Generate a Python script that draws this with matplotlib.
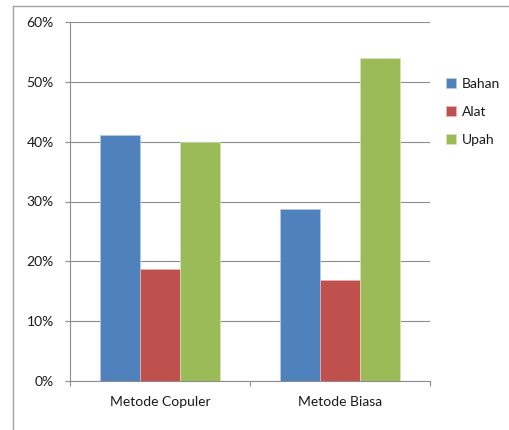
import matplotlib
matplotlib.use("Agg")
import matplotlib.pyplot as plt
from matplotlib.lines import Line2D
from matplotlib.ticker import FuncFormatter, FixedLocator

categories = ["Metode Copuler", "Metode Biasa"]
series_names = ["Bahan", "Alat", "Upah"]
bahan = [41.1, 28.7]
alat = [18.8, 16.8]
upah = [40.0, 53.9]
y_ticks = [0, 10, 20, 30, 40, 50, 60]

colors = ["#4F81BD", "#C0504D", "#9BBB59"]
edges = ["#B9CDE5", "#E6B9B8", "#D7E4BD"]

plt.rcParams["font.family"] = ["Lato", "DejaVu Sans"]

W, H = 510, 430
fig = plt.figure(figsize=(W / 100, H / 100), dpi=100)
ax = fig.add_axes([70 / W, (H - 381) / H, 360 / W, 359 / H])

values = [bahan, alat, upah]
bw = 0.222
x = list(range(len(categories)))
for i, (name, vals) in enumerate(zip(series_names, values)):
    xs = [xi + (i - 1) * bw for xi in x]
    ax.bar(xs, vals, width=bw, color=colors[i], edgecolor=edges[i],
           linewidth=0.5, label=name, zorder=3)

ax.set_xlim(-0.5, len(categories) - 0.5)
ax.set_ylim(0, 60)
ax.yaxis.set_major_locator(FixedLocator(y_ticks))
ax.yaxis.set_major_formatter(FuncFormatter(lambda v, p: f"{int(v)}%"))
ax.grid(axis="y", color="#8C8C8C", linewidth=0.8, zorder=0)

ax.xaxis.set_major_locator(FixedLocator([-0.5, 0.5, 1.5]))
ax.xaxis.set_major_formatter(FuncFormatter(lambda v, p: ""))
ax.xaxis.set_minor_locator(FixedLocator(x))
ax.set_xticklabels(categories, minor=True)
ax.tick_params(axis="x", which="major", length=3.6, width=0.8, color="#8C8C8C", direction="out")
ax.tick_params(axis="x", which="minor", length=0, pad=11, labelsize=10, labelcolor="#1A1A1A")
ax.tick_params(axis="y", length=3.6, width=0.8, color="#8C8C8C", direction="out",
               pad=8, labelsize=10, labelcolor="#1A1A1A")

for s in ["top", "right"]:
    ax.spines[s].set_visible(False)
for s in ["left", "bottom"]:
    ax.spines[s].set_color("#8C8C8C")
    ax.spines[s].set_linewidth(0.8)

leg = ax.legend(loc="upper left", bbox_to_anchor=(440 / W, (H - 72) / H),
                bbox_transform=fig.transFigure, frameon=False,
                handlelength=0.75, handleheight=0.75, handletextpad=0.45,
                labelspacing=1.15, fontsize=10, borderaxespad=0)
for t in leg.get_texts():
    t.set_color("#1A1A1A")

# chart-area border (top and left edges)
fig.add_artist(Line2D([13 / W, 13 / W], [0, (H - 6) / H], transform=fig.transFigure,
                      color="#A0A0A0", linewidth=1.0))
fig.add_artist(Line2D([13 / W, 1], [(H - 6) / H, (H - 6) / H], transform=fig.transFigure,
                      color="#A0A0A0", linewidth=1.0))

fig.savefig("out.png", dpi=100)
